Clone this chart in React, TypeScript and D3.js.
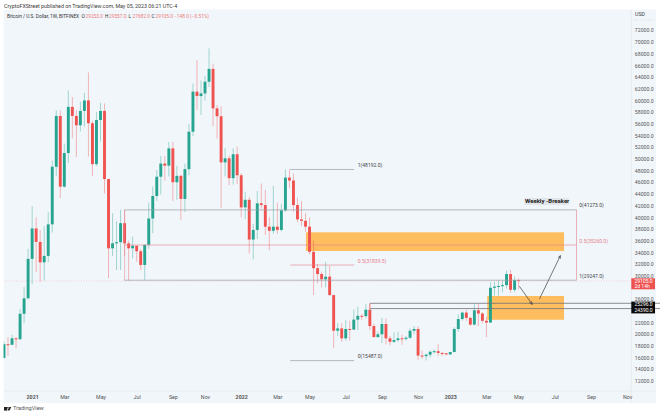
import { useEffect, useRef } from "react";
import * as d3 from "d3";

// Weekly BTCUSD candles, first one is week of Nov 16 2020, last is May 1 2023
const opens = [
  15960, 18300, 18200, 19300, 19150, 23500, 26150, 32900, 38100, 35800,
  32300, 33400, 38800, 48650, 57350, 45250, 51000, 58900, 57350, 55750,
  58200, 60000, 56100, 49100, 56650, 58200, 46550, 34700, 35550, 35750,
  39000, 35550, 34700, 35150, 34200, 31850, 35300, 39800, 43650, 46950,
  49200, 48850, 51800, 46000, 47100, 43150, 48250, 54650, 61500, 60750,
  61200, 63200, 65400, 58650, 57300, 49400, 50100, 46700, 50800, 47200,
  41700, 43000, 36200, 37850, 42400, 42100, 38400, 37700, 38400, 37850,
  41200, 46800, 46300, 42100, 39650, 39400, 38400, 34100, 31300, 30300,
  29400, 29850, 26700, 20600, 21000, 19300, 20900, 20800, 22500, 23150,
  23100, 24200, 21400, 19500, 20000, 21750, 19300, 18700, 19000, 19300,
  19200, 19400, 20600, 20900, 16350, 16250, 16500, 17000, 17100, 16800,
  16750, 16550, 16950, 20900, 22600, 23700, 22800, 21650, 24100, 23550,
  22300, 22000, 27950, 28150, 28250, 28400, 30300, 27600, 29253,
];
const highs = [
  18800, 19500, 19900, 19500, 24300, 28100, 34600, 41900, 40000, 37800,
  38500, 40900, 49700, 58300, 58300, 52600, 61700, 60600, 58400, 59800,
  61300, 64800, 56500, 58000, 59600, 59500, 46600, 40700, 39300, 41300,
  41300, 36000, 36700, 35100, 34600, 35400, 42500, 45300, 48100, 50500,
  50500, 52900, 52900, 48800, 47300, 49200, 56000, 62900, 66900, 63400,
  64200, 68900, 66300, 59200, 59000, 51900, 50600, 51800, 52100, 47600,
  44400, 43500, 38900, 44500, 45800, 44700, 40000, 45400, 42500, 42300,
  48200, 48200, 47500, 43400, 42800, 40700, 40000, 36000, 32000, 30700,
  32400, 31700, 26800, 21900, 21900, 22400, 22300, 24200, 24700, 23500,
  25200, 25200, 21800, 20500, 22800, 22700, 19700, 20300, 20400, 19900,
  19700, 21000, 21400, 21400, 17200, 16700, 17200, 17400, 18300, 17000,
  16800, 17000, 21200, 23400, 23900, 24200, 23000, 25200, 25200, 23800,
  23000, 28900, 29000, 29200, 29200, 30900, 31000, 29900, 29557,
];
const lows = [
  15800, 16300, 18100, 17600, 19000, 21900, 26000, 28600, 30700, 29000,
  29200, 32300, 37400, 47000, 43300, 45000, 49300, 53500, 50300, 54700,
  55500, 50400, 47100, 48800, 53000, 44100, 29600, 33400, 31000, 31000,
  33300, 29200, 33000, 32400, 31000, 29300, 34600, 37300, 42800, 43900,
  46300, 47000, 42800, 43000, 39500, 40900, 47200, 53900, 58400, 57500,
  60000, 62300, 55600, 53500, 41600, 47000, 45500, 45600, 45700, 40000,
  39700, 33800, 32800, 36300, 41500, 37000, 34400, 37200, 37200, 37600,
  40900, 45000, 41000, 39200, 38500, 37500, 33700, 26700, 28700, 28000,
  28000, 26600, 17600, 19700, 18700, 18900, 18900, 20700, 20700, 22400,
  22700, 20700, 19600, 19500, 18500, 18250, 18100, 18500, 18700, 18200,
  18900, 19200, 20000, 15600, 15800, 15500, 16000, 16700, 16300, 16300,
  16400, 16500, 17300, 20400, 22300, 22300, 21400, 21500, 21400, 21900,
  19500, 21950, 26600, 26600, 27200, 27800, 27100, 27200, 27682,
];
const closes = [
  18300, 18200, 19300, 19150, 23500, 26150, 32900, 38100, 35800, 32300,
  33400, 38800, 48650, 57350, 45250, 51000, 58900, 57350, 55750, 58200,
  60000, 56100, 49100, 56650, 58200, 46550, 34700, 35550, 35750, 39000,
  35550, 34700, 35150, 34200, 31850, 35300, 39800, 43650, 46950, 49200,
  48850, 51800, 46000, 47100, 43150, 48250, 54650, 61500, 60750, 61200,
  63200, 65400, 58650, 57300, 49400, 50100, 46700, 50800, 47200, 41700,
  43000, 36200, 37850, 42400, 42100, 38400, 37700, 38400, 37850, 41200,
  46800, 46300, 42100, 39650, 39400, 38400, 34100, 31300, 30300, 29400,
  29850, 26700, 20600, 21000, 19300, 20900, 20800, 22500, 23150, 23100,
  24200, 21400, 19500, 20000, 21750, 19300, 18700, 19000, 19300, 19200,
  19400, 20600, 20900, 16350, 16250, 16500, 17000, 17100, 16800, 16750,
  16550, 16950, 20900, 22600, 23700, 22800, 21650, 24100, 23550, 22300,
  22000, 27950, 28150, 28250, 28400, 30300, 27600, 29253, 29105,
];

// 24000 and 28000 sit under the price tags
const priceTicks = [12000, 14000, 16000, 18000, 20000, 22000, 26000, 30000, 32000, 34000, 36000, 38000, 40000, 42000, 44000, 46000, 48000, 50000, 52000, 54000, 56000, 58000, 60000, 62000, 64000, 66000, 68000, 70000, 72000];
const timeLabels = ["2021", "Mar", "May", "Jul", "Sep", "Nov", "2022", "Mar", "May", "Jul", "Sep", "Nov", "2023", "Mar", "May", "Jul", "Sep", "Nov"];
const timeWeeks = [7, 15, 24, 33, 42, 50, 59, 68, 76, 85, 94, 103, 111, 120, 128, 137, 146, 155];

const FONT = "Roboto, 'Liberation Sans', sans-serif";
const UP = "#26a48f";
const DOWN = "#ef5350";
const PINK = "#e57f8c";
const LINE = "#9a9ea6";
const BG = "#f1f6fb";

export default function App() {
  const svgRef = useRef<SVGSVGElement>(null);

  useEffect(() => {
    if (!svgRef.current) return;
    const svg = d3.select(svgRef.current);
    svg.selectAll("*").remove();

    const x = d3.scaleLinear().domain([0, 128]).range([4, 518.6]);
    const y = d3.scaleLinear().domain([72000, 12000]).range([30.3, 381]);

    const plotL = 3.5, plotR = 631.3, plotT = 9.5, plotB = 391, axisR = 656, axisB = 403;

    svg.append("rect").attr("x", plotL).attr("y", plotT).attr("width", axisR - plotL).attr("height", axisB - plotT).attr("fill", BG);
    svg.append("line").attr("x1", plotR).attr("x2", plotR).attr("y1", plotT).attr("y2", axisB).attr("stroke", "#e2e6ec").attr("stroke-width", 0.7);
    svg.append("line").attr("x1", plotL).attr("x2", axisR).attr("y1", plotB).attr("y2", plotB).attr("stroke", "#e2e6ec").attr("stroke-width", 0.7);

    // Header texts
    const txt = (tx: number, ty: number, s: string, fill = "#333", size = 5.6, weight = "400") =>
      svg.append("text").attr("x", tx).attr("y", ty).attr("fill", fill).attr("font-size", size).attr("font-weight", weight).attr("font-family", FONT).attr("dominant-baseline", "middle").text(s);

    txt(4, 6.3, "CryptoFXStreet published on TradingView.com, May 05, 2023 06:21 UTC-4", "#3a3a3a", 5.3);
    txt(7, 17, "Bitcoin / U.S. Dollar, 1W, BITFINEX", "#333", 4.8);
    const ohlc = [
      [81.5, "O"], [105, "H"], [128.5, "L"], [151.5, "C"],
    ] as const;
    const vals = ["29253.0", "29557.0", "27682.0", "29105.0  −148.0 (−0.51%)"];
    ohlc.forEach(([tx, k], i) => {
      txt(tx, 17, k, "#333", 4.8);
      txt(tx + 4, 17, vals[i], "#ef7a7a", 4.8);
    });

    const g = svg.append("g");

    // Orange zones
    const zones = [
      { x0: 75.1, x1: 139.3, top: 37440, bottom: 34240 },
      { x0: 120.2, x1: 139.3, top: 26540, bottom: 22480 },
    ];
    g.selectAll("rect.zone").data(zones).join("rect")
      .attr("x", (d) => x(d.x0)).attr("width", (d) => x(d.x1) - x(d.x0))
      .attr("y", (d) => y(d.top)).attr("height", (d) => y(d.bottom) - y(d.top))
      .attr("fill", "#ffb74d").attr("fill-opacity", 0.9);

    // Current price dotted line
    g.append("line").attr("x1", plotL).attr("x2", plotR).attr("y1", y(29105)).attr("y2", y(29105))
      .attr("stroke", "#ef5350").attr("stroke-opacity", 0.5).attr("stroke-width", 0.5).attr("stroke-dasharray", "1,1.5");

    // Candles
    const idx = d3.range(closes.length);
    g.selectAll("line.wick").data(idx).join("line")
      .attr("x1", (i) => x(i)).attr("x2", (i) => x(i))
      .attr("y1", (i) => y(highs[i])).attr("y2", (i) => y(lows[i]))
      .attr("stroke", (i) => (closes[i] >= opens[i] ? UP : DOWN))
      .attr("stroke-opacity", 0.5).attr("stroke-width", 0.8);
    g.selectAll("rect.body").data(idx).join("rect")
      .attr("x", (i) => x(i) - 1.45).attr("width", 2.9)
      .attr("y", (i) => y(Math.max(opens[i], closes[i])))
      .attr("height", (i) => Math.max(1, Math.abs(y(opens[i]) - y(closes[i]))))
      .attr("fill", (i) => (closes[i] >= opens[i] ? UP : DOWN));

    // Clip the half candle at the left edge
    svg.append("rect").attr("x", 0).attr("y", plotT).attr("width", plotL).attr("height", axisB - plotT).attr("fill", "#fff");

    // Fib levels
    const level = (w0: number, w1: number, p: number, color: string, sw = 0.7) =>
      g.append("line").attr("x1", x(w0)).attr("x2", x(w1)).attr("y1", y(p)).attr("y2", y(p)).attr("stroke", color).attr("stroke-width", sw);
    level(30, 142.4, 41273, LINE);
    level(30, 142.4, 35260, PINK, 0.6);
    level(30, 142.4, 29247, LINE);
    g.append("line").attr("x1", x(30)).attr("x2", x(30)).attr("y1", y(41273)).attr("y2", y(29247)).attr("stroke", PINK).attr("stroke-width", 0.5);
    g.append("line").attr("x1", x(142.4)).attr("x2", x(142.4)).attr("y1", y(41273)).attr("y2", y(29247)).attr("stroke", PINK).attr("stroke-width", 0.6);
    level(71.2, 87.1, 48192, LINE);
    level(71.2, 87.1, 31839.5, PINK, 0.6);
    level(71.2, 87.1, 15487, LINE);

    txt(x(143.1), y(41273) - 4, "0(41273.0)", "#444", 5);
    txt(x(143.1), y(35260) - 3.5, "0.5(35260.0)", PINK, 5);
    txt(x(143.1), y(29247) - 3.5, "1(29247.0)", "#444", 5);
    txt(x(88), y(48192) - 3.5, "1(48192.0)", "#444", 5);
    txt(x(88), y(31839.5) - 3.5, "0.5(31839.5)", PINK, 5);
    txt(x(88), y(15487) - 3.5, "0(15487.0)", "#444", 5);

    // Weekly breaker label
    svg.append("rect").attr("x", 524.3).attr("y", 198).attr("width", 44.5).attr("height", 7).attr("fill", "#e2e5ea");
    txt(525, 201.6, "Weekly -Breaker", "#222", 6, "700");

    // Support lines
    level(91, 174, 25296, "#6e7278", 0.8);
    level(91, 174, 24390, "#6e7278", 0.8);
    g.append("line").attr("x1", x(91)).attr("x2", x(91)).attr("y1", y(25296)).attr("y2", y(24390)).attr("stroke", "#ef5350").attr("stroke-width", 0.6);

    // Arrows
    const defs = svg.append("defs");
    defs.append("marker").attr("id", "arr").attr("viewBox", "0 0 6 6").attr("refX", 5.5).attr("refY", 3)
      .attr("markerWidth", 5).attr("markerHeight", 5).attr("orient", "auto")
      .append("path").attr("d", "M0,0.5L5.5,3L0,5.5").attr("fill", "none").attr("stroke", "#3c3f45").attr("stroke-width", 1);
    const arrows = [
      { w0: 128.2, p0: 28200, w1: 131.4, p1: 25100 },
      { w0: 133.2, p0: 26050, w1: 138.4, p1: 33450 },
    ];
    g.selectAll("line.arrow").data(arrows).join("line")
      .attr("x1", (d) => x(d.w0)).attr("y1", (d) => y(d.p0))
      .attr("x2", (d) => x(d.w1)).attr("y2", (d) => y(d.p1))
      .attr("stroke", "#3c3f45").attr("stroke-width", 0.7).attr("marker-end", "url(#arr)");

    // Price axis
    const yAxis = svg.append("g").attr("transform", `translate(${plotR},0)`)
      .call(d3.axisRight(y).tickValues(priceTicks).tickSize(0).tickPadding(3.5).tickFormat((d) => d3.format(".1f")(d as number)));
    yAxis.select(".domain").remove();
    yAxis.selectAll("text").attr("fill", "#555").attr("font-size", 5.2).attr("font-family", FONT);

    txt(635, 15, "USD", "#444", 5.3);
    svg.append("line").attr("x1", 634).attr("x2", 654).attr("y1", 20).attr("y2", 20).attr("stroke", "#c4c8ce").attr("stroke-width", 0.5).attr("stroke-dasharray", "1,1");

    // Price tags
    const tag = (top: number, h: number, fill: string, rows: [number, string][]) => {
      svg.append("rect").attr("x", plotR).attr("y", top).attr("width", axisR - plotR - 1).attr("height", h).attr("fill", fill);
      rows.forEach(([ty, s]) => txt(634.5, ty, s, "#fff", 5));
    };
    tag(278.3, 11, "#ef5350", [[281.2, "29105.0"], [286.5, "2d 14h"]]);
    tag(301.6, 11.8, "#0a0a0a", [[304.4, "25296.0"], [310.4, "24390.0"]]);

    // Time axis
    const xAxis = svg.append("g").attr("transform", `translate(0,${plotB + 1})`)
      .call(d3.axisBottom(x).tickValues(timeWeeks).tickSize(0).tickPadding(3).tickFormat((_, i) => timeLabels[i]));
    xAxis.select(".domain").remove();
    xAxis.selectAll("text").attr("fill", "#555").attr("font-size", 5.3).attr("font-family", FONT)
      .attr("font-weight", (_, i) => (/^\d/.test(timeLabels[i]) ? "700" : "400"));

    // TradingView footer, logo as shapes
    const logo = svg.append("g").attr("fill", "#222");
    logo.append("rect").attr("x", 4).attr("y", 407).attr("width", 3.2).attr("height", 3.6);
    logo.append("circle").attr("cx", 7.9).attr("cy", 407.8).attr("r", 0.8);
    logo.append("path").attr("d", d3.line()([[9.2, 407], [11.2, 407], [9.6, 410.6], [7.6, 410.6]]) + "Z");
    txt(13, 409, "TradingView", "#555", 5.6);
  }, []);

  return <svg ref={svgRef} width={660} height={415} style={{ position: "absolute", left: 0, top: 0, background: "#fff" }} />;
}
